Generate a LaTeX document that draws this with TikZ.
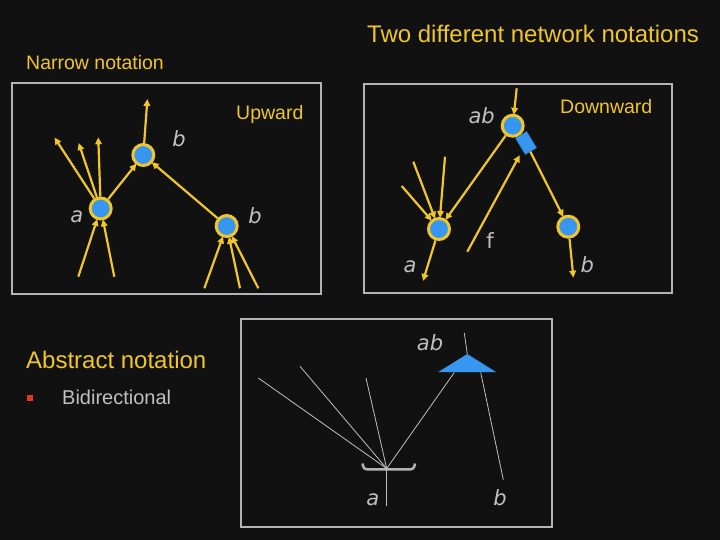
\documentclass[tikz,border=0pt]{standalone}
\usepackage{fontspec}
\setmainfont{Liberation Sans}
\newfontfamily\lblfont{DejaVu Sans}
\usetikzlibrary{arrows.meta}
\definecolor{bg}{RGB}{17,17,17}
\definecolor{ylw}{RGB}{240,198,40}
\definecolor{nblue}{RGB}{55,150,240}
\definecolor{lgray}{RGB}{192,192,192}
\definecolor{fgray}{RGB}{180,180,180}
\definecolor{bred}{RGB}{225,55,30}
\tikzset{
  frame/.style={draw=fgray, line width=1.3pt},
  netnode/.style={circle, draw=ylw, fill=nblue, line width=3pt, minimum size=21pt, inner sep=0pt},
  arr/.style={draw=ylw, line width=2.2pt, -{Triangle[length=7pt,width=6.5pt]}, shorten >=-1pt},
  lbl/.style={text=lgray, font=\lblfont\itshape\fontsize{21}{24}\selectfont, inner sep=0pt},
  lblup/.style={text=lgray, font=\lblfont\fontsize{21}{24}\selectfont, inner sep=0pt},
  ytxt/.style={text=ylw, inner sep=0pt, anchor=base west},
  thin/.style={draw=lgray, line width=0.8pt},
  rectn/.style={rectangle, fill=nblue, draw=nblue!80!black, line width=0.5pt, minimum width=19pt, minimum height=13pt, inner sep=0pt, rotate=-59}
}
\begin{document}
\begin{tikzpicture}[x=1pt,y=-1pt]
\fill[bg] (0,0) rectangle (720,540);
\path[use as bounding box] (0,0) rectangle (720,540);

% titles
\node[ytxt, font=\fontsize{24}{28}\selectfont] (title) at (367,42.3) {Two different network notations};
\node[ytxt, font=\fontsize{19.5}{23}\selectfont] (narrow) at (26,70) {Narrow notation};
\node[ytxt, font=\fontsize{24}{28}\selectfont] (abstract) at (26,368.3) {Abstract notation};
\node[fill=bred, minimum size=6pt, inner sep=0pt] (bullet) at (30,397.7) {};
\node[text=lgray, inner sep=0pt, anchor=base west, font=\fontsize{20}{24}\selectfont] (bidir) at (62,404) {Bidirectional};

% frames
\draw[frame] (12,83) rectangle (321,294);
\draw[frame] (364,84) rectangle (672,293);
\draw[frame] (241,319) rectangle (552,527);

% ---------- Panel 1: Upward ----------
\node[ytxt, font=\fontsize{19.5}{23}\selectfont] (upw) at (236,119.3) {Upward};
\node[netnode] (a1) at (100.7,208.5) {};
\node[netnode] (b1) at (143.3,155) {};
\node[netnode] (b2) at (226.7,226) {};
\node[lbl] (la1) at (76.7,217) {a};
\node[lbl] (lb1) at (179,139) {b};
\node[lbl] (lb2) at (255,216) {b};
\coordinate (u1) at (55,138.3);
\coordinate (u2) at (79,144);
\coordinate (u3) at (98.3,138.3);
\coordinate (u4) at (147.3,100);
\coordinate (i1) at (78.3,276.7);
\coordinate (i2) at (114.3,276.7);
\coordinate (i3) at (204.3,288.3);
\coordinate (i4) at (240,288.3);
\coordinate (i5) at (258.3,288.3);
\draw[arr] (a1) -- (u1);
\draw[arr] (a1) -- (u2);
\draw[arr] (a1) -- (u3);
\draw[arr] (a1) -- (b1);
\draw[arr] (b1) -- (u4);
\draw[arr] (b2) -- (b1);
\draw[arr] (i1) -- (a1);
\draw[arr] (i2) -- (a1);
\draw[arr] (i3) -- (b2);
\draw[arr] (i4) -- (b2);
\draw[arr] (i5) -- (b2);

% ---------- Panel 2: Downward ----------
\node[ytxt, font=\fontsize{19.5}{23}\selectfont] (dnw) at (560,113.3) {Downward};
\node[netnode] (ab2) at (512.7,125.7) {};
\node[netnode] (a2) at (439,229) {};
\node[netnode] (b3) at (568.3,226.7) {};
\node[rectn] (r2) at (526,143) {};
\node[lbl] (lab2) at (481.7,115.7) {ab};
\node[lbl] (la2) at (410,266.7) {a};
\node[lbl] (lb3) at (587.3,265) {b};
\node[lblup] (lf) at (490,241) {f};
\coordinate (t2) at (516.7,88.3);
\coordinate (f1) at (467.3,251.7);
\coordinate (f2) at (519.3,156);
\coordinate (d1) at (401.7,186);
\coordinate (d2) at (413.3,161.7);
\coordinate (d3) at (445,156.7);
\coordinate (ao) at (423.3,280);
\coordinate (bo) at (573.3,276.7);
\draw[arr] (t2) -- (ab2);
\draw[arr] (ab2) -- (a2);
\draw[arr] (f1) -- (f2);
\draw[arr] (r2) -- (b3);
\draw[arr] (d1) -- (a2);
\draw[arr] (d2) -- (a2);
\draw[arr] (d3) -- (a2);
\draw[arr] (a2) -- (ao);
\draw[arr] (b3) -- (bo);

% ---------- Panel 3: Abstract ----------
\coordinate (tap) at (467.3,354);
\coordinate (tl) at (438.3,372);
\coordinate (tr) at (496,372);
\coordinate (tbl) at (454.3,372.5);
\coordinate (tbr) at (480.7,372.5);
\coordinate (tin) at (464.3,333);
\coordinate (j) at (386.7,468.5);
\coordinate (jd) at (386.7,506.3);
\coordinate (e1) at (258.3,378);
\coordinate (e2) at (300,366.3);
\coordinate (e3) at (366,378);
\coordinate (bend) at (503.3,479.7);
\fill[nblue] (tl) -- (tap) -- (tr) -- cycle;
\draw[thin] (tin) -- (tap);
\draw[thin] (j) -- (e1);
\draw[thin] (j) -- (e2);
\draw[thin] (j) -- (e3);
\draw[thin] (j) -- (tbl);
\draw[thin] (j) -- (jd);
\draw[thin] (tbr) -- (bend);
\draw[draw=fgray, line width=2.5pt, rounded corners=3pt] (362.5,463.5) -- (363.8,469.3) -- (413.7,469.3) -- (415,463.5);
\node[lbl] (lab3) at (430,343) {ab};
\node[lbl] (la3) at (372.7,499.7) {a};
\node[lbl] (lb4) at (500,498) {b};
\end{tikzpicture}
\end{document}
